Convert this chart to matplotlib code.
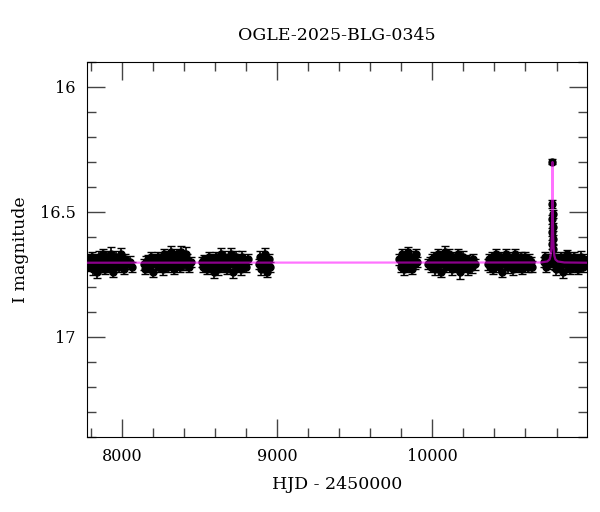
import numpy as np
import matplotlib
matplotlib.use("Agg")
import matplotlib.pyplot as plt
from matplotlib.ticker import MultipleLocator

# Photometry, one block per observing season (HJD - 2450000, I mag, error)
t1 = [7782, 7789, 7795, 7801, 7808, 7814, 7820, 7827, 7833, 7840, 7846, 7853, 7859, 7866,
      7872, 7879, 7885, 7892, 7898, 7905, 7911, 7918, 7925, 7931, 7938, 7944, 7951, 7958,
      7964, 7971, 7978, 7985, 7992, 7999, 8006, 8013, 8020, 8034, 8050, 8068]
m1 = [16.71, 16.69, 16.72, 16.70, 16.68, 16.73, 16.70, 16.69, 16.71, 16.74, 16.70, 16.68,
      16.72, 16.69, 16.71, 16.67, 16.70, 16.73, 16.69, 16.71, 16.68, 16.70, 16.72, 16.67,
      16.70, 16.74, 16.69, 16.71, 16.68, 16.70, 16.72, 16.69, 16.67, 16.71, 16.70, 16.73,
      16.69, 16.71, 16.70, 16.72]
e1 = [0.020, 0.022, 0.018, 0.025, 0.020, 0.021, 0.019, 0.023, 0.020, 0.024, 0.020, 0.022,
      0.019, 0.021, 0.030, 0.020, 0.022, 0.018, 0.021, 0.020, 0.023, 0.019, 0.020, 0.028,
      0.021, 0.020, 0.022, 0.019, 0.023, 0.020, 0.021, 0.019, 0.024, 0.020, 0.022, 0.019,
      0.021, 0.020, 0.022, 0.020]

t2 = [8143, 8150, 8158, 8165, 8173, 8180, 8188, 8195, 8203, 8210, 8218, 8225, 8233, 8240,
      8248, 8255, 8263, 8270, 8278, 8285, 8293, 8300, 8308, 8315, 8323, 8330, 8338, 8345,
      8353, 8360, 8368, 8375, 8383, 8390, 8398, 8405, 8413, 8420, 8430, 8443]
m2 = [16.71, 16.73, 16.70, 16.69, 16.72, 16.71, 16.68, 16.70, 16.74, 16.69, 16.71, 16.70,
      16.68, 16.72, 16.70, 16.69, 16.73, 16.67, 16.71, 16.70, 16.68, 16.72, 16.69, 16.66,
      16.71, 16.70, 16.73, 16.68, 16.67, 16.71, 16.69, 16.72, 16.66, 16.70, 16.68, 16.71,
      16.67, 16.69, 16.72, 16.70]
e2 = [0.021, 0.020, 0.023, 0.019, 0.022, 0.020, 0.021, 0.019, 0.022, 0.020, 0.023, 0.021,
      0.020, 0.019, 0.022, 0.020, 0.021, 0.023, 0.019, 0.020, 0.022, 0.021, 0.020, 0.025,
      0.019, 0.021, 0.020, 0.022, 0.023, 0.019, 0.021, 0.020, 0.024, 0.021, 0.019, 0.022,
      0.028, 0.020, 0.021, 0.020]

t3 = [8517, 8524, 8531, 8539, 8546, 8553, 8561, 8568, 8575, 8583, 8590, 8597, 8605, 8612,
      8619, 8627, 8634, 8641, 8649, 8656, 8663, 8671, 8678, 8685, 8693, 8700, 8707, 8715,
      8722, 8729, 8737, 8744, 8751, 8759, 8766, 8773, 8781, 8790, 8800, 8811]
m3 = [16.70, 16.72, 16.69, 16.71, 16.73, 16.70, 16.68, 16.72, 16.71, 16.69, 16.74, 16.70,
      16.68, 16.71, 16.73, 16.69, 16.70, 16.67, 16.72, 16.71, 16.68, 16.70, 16.73, 16.69,
      16.71, 16.67, 16.70, 16.74, 16.69, 16.71, 16.68, 16.72, 16.70, 16.69, 16.73, 16.68,
      16.71, 16.70, 16.72, 16.69]
e3 = [0.020, 0.022, 0.019, 0.021, 0.020, 0.023, 0.019, 0.021, 0.020, 0.022, 0.024, 0.020,
      0.021, 0.019, 0.022, 0.020, 0.021, 0.026, 0.019, 0.020, 0.022, 0.021, 0.020, 0.019,
      0.022, 0.027, 0.020, 0.024, 0.021, 0.020, 0.022, 0.019, 0.021, 0.020, 0.023, 0.022,
      0.020, 0.021, 0.019, 0.020]

t4 = [8886, 8892, 8898, 8904, 8910, 8916, 8922, 8928, 8934, 8940, 8946, 8952]
m4 = [16.71, 16.68, 16.73, 16.70, 16.69, 16.72, 16.67, 16.71, 16.74, 16.70, 16.69, 16.72]
e4 = [0.020, 0.022, 0.021, 0.019, 0.020, 0.022, 0.025, 0.020, 0.021, 0.019, 0.022, 0.020]

t5 = [9788, 9795, 9802, 9809, 9816, 9823, 9830, 9837, 9844, 9851, 9858, 9865, 9872, 9879,
      9886, 9893, 9900]
m5 = [16.69, 16.72, 16.67, 16.70, 16.73, 16.68, 16.71, 16.69, 16.66, 16.72, 16.70, 16.68,
      16.73, 16.69, 16.71, 16.67, 16.70]
e5 = [0.021, 0.020, 0.022, 0.019, 0.021, 0.020, 0.022, 0.021, 0.020, 0.019, 0.021, 0.022,
      0.020, 0.021, 0.019, 0.022, 0.020]

t6 = [9975, 9982, 9990, 9997, 10005, 10012, 10020, 10027, 10035, 10042, 10050, 10057,
      10065, 10072, 10080, 10087, 10095, 10102, 10110, 10117, 10125, 10132, 10140, 10147,
      10155, 10162, 10170, 10177, 10185, 10192, 10200, 10207, 10215, 10222, 10230, 10237,
      10245, 10255, 10265, 10276]
m6 = [16.71, 16.70, 16.72, 16.69, 16.71, 16.68, 16.73, 16.70, 16.67, 16.71, 16.69, 16.74,
      16.68, 16.70, 16.66, 16.72, 16.69, 16.71, 16.67, 16.70, 16.73, 16.68, 16.71, 16.69,
      16.72, 16.67, 16.70, 16.74, 16.69, 16.71, 16.68, 16.72, 16.70, 16.69, 16.73, 16.71,
      16.70, 16.72, 16.69, 16.71]
e6 = [0.020, 0.021, 0.019, 0.022, 0.020, 0.021, 0.023, 0.020, 0.022, 0.019, 0.021, 0.020,
      0.022, 0.021, 0.025, 0.020, 0.021, 0.019, 0.022, 0.020, 0.021, 0.019, 0.022, 0.020,
      0.021, 0.023, 0.020, 0.028, 0.021, 0.019, 0.022, 0.020, 0.021, 0.019, 0.022, 0.020,
      0.021, 0.023, 0.020, 0.021]

t7 = [10356, 10363, 10371, 10378, 10385, 10393, 10400, 10407, 10415, 10422, 10429, 10437,
      10444, 10451, 10459, 10466, 10473, 10481, 10488, 10495, 10503, 10510, 10517, 10525,
      10532, 10539, 10547, 10554, 10561, 10569, 10576, 10583, 10591, 10598, 10605, 10613,
      10620, 10628, 10636, 10644]
m7 = [16.71, 16.69, 16.72, 16.70, 16.68, 16.73, 16.70, 16.67, 16.71, 16.69, 16.72, 16.70,
      16.68, 16.74, 16.69, 16.71, 16.67, 16.70, 16.72, 16.68, 16.71, 16.69, 16.73, 16.70,
      16.67, 16.71, 16.69, 16.72, 16.70, 16.68, 16.73, 16.69, 16.71, 16.68, 16.70, 16.72,
      16.69, 16.71, 16.70, 16.72]
e7 = [0.021, 0.020, 0.022, 0.019, 0.021, 0.020, 0.022, 0.021, 0.020, 0.019, 0.021, 0.022,
      0.020, 0.021, 0.019, 0.022, 0.020, 0.021, 0.023, 0.020, 0.022, 0.019, 0.021, 0.020,
      0.022, 0.021, 0.019, 0.020, 0.022, 0.021, 0.020, 0.019, 0.022, 0.020, 0.021, 0.022,
      0.020, 0.021, 0.019, 0.022]

# season with the event
t8 = [10717, 10724, 10731, 10738, 10745, 10752, 10759, 10765,
      10770.5, 10771.3, 10772.2, 10773.0, 10774.0, 10775.0, 10776.0, 10777.2, 10779, 10782,
      10790, 10797, 10805, 10812, 10820, 10827, 10835, 10842, 10850, 10857, 10865, 10872,
      10880, 10887, 10895, 10902, 10910, 10917, 10925, 10932, 10940, 10947, 10955, 10962,
      10970, 10977, 10985, 10992]
m8 = [16.70, 16.68, 16.72, 16.70, 16.69, 16.71, 16.70, 16.69,
      16.63, 16.58, 16.53, 16.47, 16.30, 16.51, 16.56, 16.61, 16.65, 16.68,
      16.71, 16.73, 16.69, 16.70, 16.72, 16.68, 16.71, 16.74, 16.69, 16.70, 16.67, 16.72,
      16.70, 16.73, 16.69, 16.71, 16.68, 16.72, 16.70, 16.69, 16.73, 16.71, 16.68, 16.70,
      16.72, 16.69, 16.71, 16.70]
e8 = [0.021, 0.020, 0.022, 0.019, 0.021, 0.020, 0.022, 0.021,
      0.018, 0.017, 0.017, 0.016, 0.010, 0.016, 0.017, 0.018, 0.019, 0.020,
      0.021, 0.022, 0.020, 0.019, 0.021, 0.020, 0.022, 0.025, 0.021, 0.020, 0.019, 0.022,
      0.021, 0.020, 0.022, 0.019, 0.021, 0.020, 0.022, 0.021, 0.020, 0.019, 0.022, 0.021,
      0.020, 0.022, 0.019, 0.021]

# model curve
model_t = [7775, 10700, 10740, 10755, 10762, 10767, 10770, 10772, 10773, 10774,
           10775, 10776, 10778, 10781, 10786, 10793, 10808, 10850, 11000]
model_m = [16.703, 16.702, 16.698, 16.690, 16.675, 16.645, 16.590, 16.500, 16.420, 16.300,
           16.420, 16.500, 16.590, 16.645, 16.675, 16.690, 16.698, 16.702, 16.703]

plt.rcParams['font.family'] = ['DejaVu Serif']

fig = plt.figure(figsize=(6, 5.12), dpi=100)
ax = fig.add_axes([0.145, 0.1465, 0.833, 0.7325])

seasons = [(t1, m1, e1), (t2, m2, e2), (t3, m3, e3), (t4, m4, e4),
           (t5, m5, e5), (t6, m6, e6), (t7, m7, e7), (t8, m8, e8)]
for t, m, e in seasons:
    ax.errorbar(t, m, yerr=e, fmt='o', color='black', ms=5, elinewidth=1.2,
                capsize=3, capthick=1, zorder=2)

ax.plot(model_t, model_m, color='#ff00ff', alpha=0.55, lw=1.6, zorder=3)

ax.set_xlim(7775, 10995)
ax.set_ylim(17.4, 15.9)
ax.xaxis.set_major_locator(MultipleLocator(1000))
ax.xaxis.set_minor_locator(MultipleLocator(200))
ax.yaxis.set_major_locator(MultipleLocator(0.5))
ax.yaxis.set_minor_locator(MultipleLocator(0.1))
ax.yaxis.set_major_formatter(plt.FuncFormatter(lambda v, p: f"{v:g}"))
ax.tick_params(which='both', direction='in', top=True, right=True,
               color='#444444', labelsize=11.5)
ax.tick_params(which='major', length=13, width=1, pad=8)
ax.tick_params(which='minor', length=6.5, width=1)

ax.set_title("OGLE-2025-BLG-0345", fontsize=12.5, pad=16)
ax.set_xlabel("HJD - 2450000", fontsize=12.5, labelpad=8)
ax.set_ylabel("I magnitude", fontsize=12.5, labelpad=8)

fig.savefig("out.png", dpi=100)
